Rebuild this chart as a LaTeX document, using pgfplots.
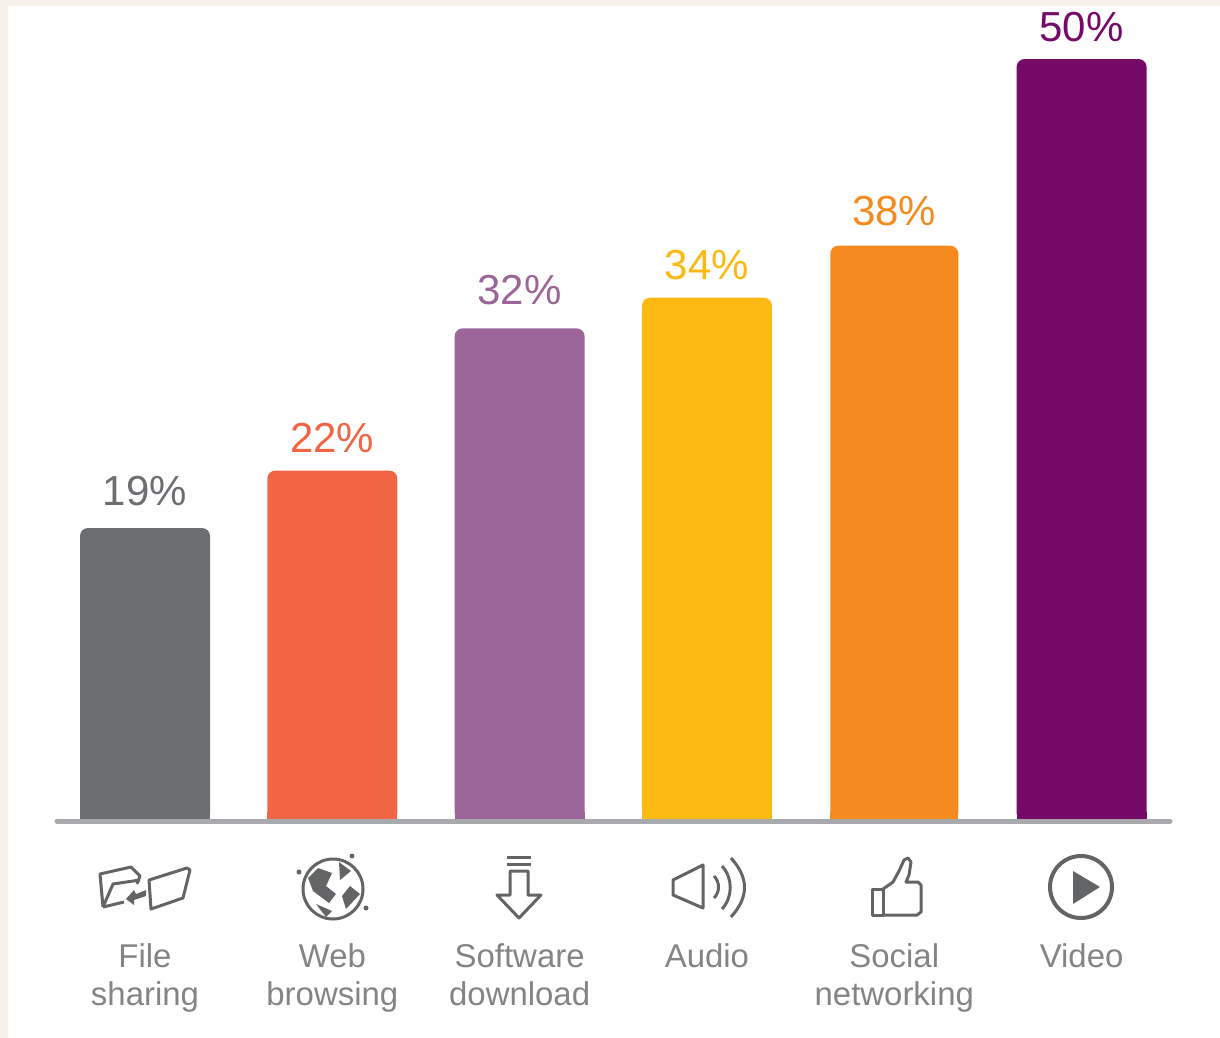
\documentclass[border=0pt]{standalone}
\usepackage{pgfplots}
\pgfplotsset{compat=1.18}
\usepackage{fontspec}
\setmainfont{Liberation Sans}
\definecolor{cfile}{HTML}{6D6E71}
\definecolor{cweb}{HTML}{F26544}
\definecolor{csoft}{HTML}{9B6599}
\definecolor{caudio}{HTML}{FDB913}
\definecolor{csocial}{HTML}{F58A1F}
\definecolor{cvideo}{HTML}{750A68}
\definecolor{cbase}{HTML}{A7A9AC}
\definecolor{cicon}{HTML}{636466}
\definecolor{cpaper}{HTML}{F8F1EA}
\pgfplotsset{
    valbar/.style={
        fill=#1, draw=none, bar shift=0pt, rounded corners=6pt,
        nodes near coords style={text=#1}
    },
    % square foot, so that only the top of a bar is rounded
    barfoot/.style={
        fill=#1, draw=none, bar shift=0pt, sharp corners,
        nodes near coords={}, forget plot
    }
}
\begin{document}
\begin{tikzpicture}
    \begin{scope}[x=0.75pt,y=-0.75pt]
        \useasboundingbox (0,0) rectangle (1220,1038);
        \fill[cpaper] (0,0) rectangle (8,1038);
        \fill[cpaper] (0,0) rectangle (1220,6);
    \end{scope}
    \begin{axis}[
        at={(42.75pt,-615.75pt)},
        anchor=south west,
        scale only axis,
        width=834.75pt,
        height=615.75pt,
        xmin=-0.4698, xmax=5.472,
        ymin=0, ymax=53.66,
        clip=false,
        axis on top,
        axis x line=middle,
        axis y line=none,
        axis line style={-, draw=cbase, line width=3.75pt, line cap=round},
        major tick length=0pt,
        xtick={0,1,2,3,4,5},
        xticklabels={{File\\sharing},{Web\\browsing},{Software\\download},{Audio},{Social\\networking},{Video}},
        x tick label style={
            align=center, anchor=north, yshift=-88.75pt, text=cfile!85,
            font=\fontsize{24.7}{28.5}\selectfont},
        ybar,
        bar width=97.5pt,
        point meta=explicit,
        /pgf/number format/assume math mode=true,
        nodes near coords={\pgfmathprintnumber{\pgfplotspointmeta}\%},
        every node near coord/.append style={
            anchor=south, yshift=10pt, text depth=0pt,
            font=\fontsize{31.5}{36}\selectfont}
    ]
    \addplot[valbar=cfile, nodes near coords style={yshift=3pt}] coordinates {(0,19.15) [19]};
    \addplot[valbar=cweb] coordinates {(1,22.9) [22]};
    \addplot[valbar=csoft, nodes near coords style={yshift=4.5pt}] coordinates {(2,32.2) [32]};
    \addplot[valbar=caudio] coordinates {(3,34.2) [34]};
    \addplot[valbar=csocial, bar width=96pt, nodes near coords style={yshift=1.5pt}] coordinates {(4,37.6) [38]};
    \addplot[valbar=cvideo] coordinates {(5,49.8) [50]};
    \addplot[barfoot=cfile] coordinates {(0,0.6) [0]};
    \addplot[barfoot=cweb] coordinates {(1,0.6) [0]};
    \addplot[barfoot=csoft] coordinates {(2,0.6) [0]};
    \addplot[barfoot=caudio] coordinates {(3,0.6) [0]};
    \addplot[barfoot=csocial, bar width=96pt] coordinates {(4,0.6) [0]};
    \addplot[barfoot=cvideo] coordinates {(5,0.6) [0]};
    \end{axis}
    % icons under the axis line
    \begin{scope}[x=0.75pt,y=-0.75pt,draw=cicon, line width=2.25pt, line join=round]
        % folders
        \draw (103,907) -- (100,874) -- (131,867) -- (140,876) -- (137,884);
        \draw (103,907) -- (113,884) -- (140,880);
        \draw (103,907) -- (124,902);
        \draw (149,880) -- (187,868) -- (190,870) -- (183,898) -- (151,909) -- cycle;
        \fill[cicon] (126,899) -- (134,890) -- (136,894) -- (146,890) -- (146,896) -- (134,900) -- (134,905) -- cycle;
        % globe
        \draw (333,889) circle (30);
        \fill[cicon] (318,868) -- (332,873) -- (326,886) -- (336,894) -- (329,903) -- (313,891) -- (308,878) -- cycle;
        \fill[cicon] (339,862) -- (351,871) -- (340,880) -- cycle;
        \fill[cicon] (350,886) -- (360,894) -- (346,909) -- (342,896) -- cycle;
        \fill[cicon] (316,904) -- (332,911) -- (326,917) -- cycle;
        \fill[cicon] (299,872) circle (2.5);
        \fill[cicon] (352,856) circle (2.5);
        \fill[cicon] (366,908) circle (2.5);
        % download
        \draw (507,857) -- (531,857);
        \draw (507,864) -- (531,864);
        \draw (510,871) -- (528,871) -- (528,895) -- (541,895) -- (519,918) -- (497,895) -- (510,895) -- cycle;
        % speaker
        \draw (673,880) -- (703,865) -- (703,908) -- (673,895) -- cycle;
        \draw (714,876) .. controls (720,882) and (720,892) .. (714,898);
        \draw (722,866) .. controls (733,878) and (733,897) .. (722,909);
        \draw (731,858) .. controls (749,878) and (749,897) .. (731,917);
        % thumb
        \draw (872,889) -- (883,889) -- (883,915) -- (872,915) -- cycle;
        \draw (883,889) -- (893,882) -- (899,871) -- (904,860) -- (908,858) -- (911,862) -- (909,875) -- (906,882) -- (918,882) -- (921,885) -- (921,912) -- (917,915) -- (883,915);
        % play
        \draw[line width=3pt] (1081,887) circle (31);
        \fill[cicon] (1073,871) -- (1073,904) -- (1100,887) -- cycle;
    \end{scope}
\end{tikzpicture}
\end{document}
